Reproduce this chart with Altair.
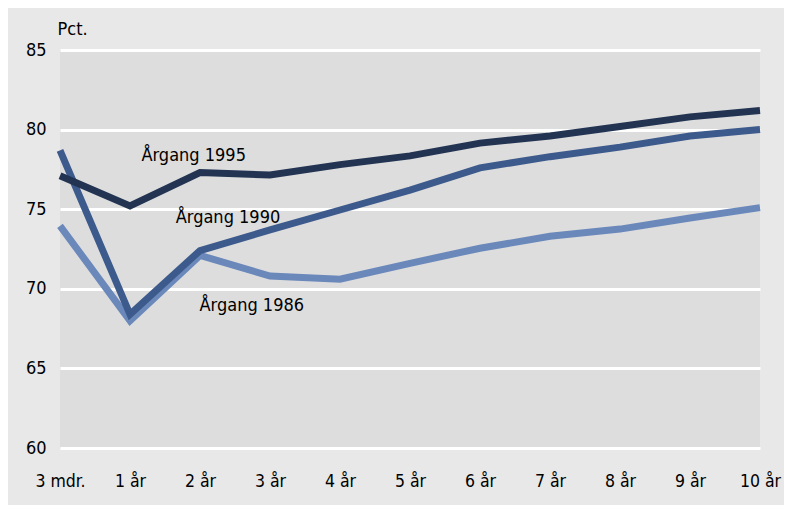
import altair as alt
import pandas as pd

categories = ["3 mdr.", "1 år", "2 år", "3 år", "4 år", "5 år", "6 år", "7 år", "8 år", "9 år", "10 år"]
series_names = ["Årgang 1986", "Årgang 1990", "Årgang 1995"]
v1986 = [73.95, 68.0, 72.1, 70.8, 70.6, 71.6, 72.55, 73.3, 73.75, 74.45, 75.1]
v1990 = [78.7, 68.4, 72.4, 73.7, 74.95, 76.2, 77.6, 78.3, 78.9, 79.6, 80.0]
v1995 = [77.1, 75.2, 77.3, 77.15, 77.8, 78.35, 79.15, 79.6, 80.2, 80.8, 81.2]
colors = ["#6b88bb", "#3d5a8c", "#233453"]

# annotation anchors (category index, value)
label_x = [2.74, 2.40, 1.91]
label_y = [68.9, 74.45, 78.35]

FONT = "Liberation Sans Narrow, DejaVu Sans Condensed, sans-serif"

rows = []
for name, vals in zip(series_names, [v1986, v1990, v1995]):
    for i, v in enumerate(vals):
        rows.append({"serie": name, "i": i, "v": v})
df = pd.DataFrame(rows)
lab = pd.DataFrame({"serie": series_names, "i": label_x, "v": label_y})

cat_js = "[" + ",".join("'" + c + "'" for c in categories) + "]"

x = alt.X("i:Q", scale=alt.Scale(domain=[0, 10], nice=False, zero=False),
          axis=alt.Axis(values=list(range(11)), labelExpr=cat_js + "[datum.value]",
                        grid=False, domain=False, ticks=False, labelPadding=24,
                        labelFontSize=17.5, labelFont=FONT, labelColor="#000",
                        title=None, labelFlush=False))
y = alt.Y("v:Q", scale=alt.Scale(domain=[60, 85], nice=False, zero=False),
          axis=alt.Axis(values=[60, 65, 70, 75, 80, 85], grid=True, gridColor="white",
                        gridWidth=3, gridOpacity=1, domain=False, ticks=False,
                        labelPadding=14, labelFontSize=18, labelFont=FONT,
                        labelColor="#000", title="Pct.", titleAngle=0,
                        titleAlign="left", titleBaseline="bottom", titleX=-3, titleY=-12,
                        titleFont=FONT, titleFontSize=18, titleFontWeight="normal",
                        titleColor="#000"))

color = alt.Color("serie:N", scale=alt.Scale(domain=series_names, range=colors), legend=None)

lines = alt.Chart(df).mark_line(strokeWidth=7, strokeJoin="miter", clip=False).encode(
    x=x, y=y, color=color, order="i:Q")

texts = alt.Chart(lab).mark_text(font=FONT, fontSize=18, color="#000",
                                 align="center", baseline="middle").encode(
    x="i:Q", y="v:Q", text="serie:N")

chart = (lines + texts).properties(
    width=700, height=398,
    autosize=alt.AutoSizeParams(type="none"),
    padding={"left": 52, "top": 42, "right": 24, "bottom": 57},
    background="#e8e8e8",
).configure_view(fill="#dddddd", stroke=None)

chart.save("out.html", embed_options={"renderer": "svg", "actions": False})
